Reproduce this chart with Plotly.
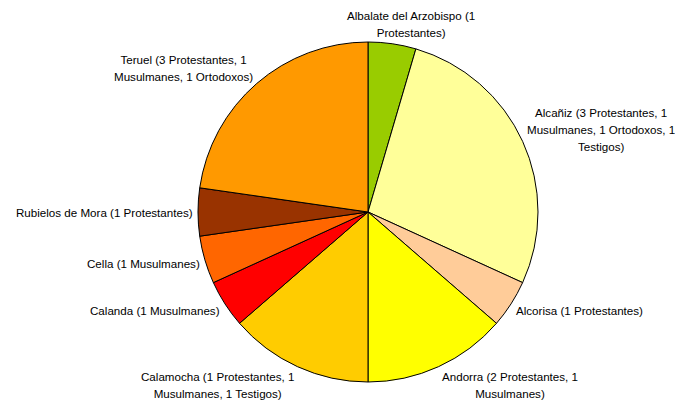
import math
import plotly.graph_objects as go

labels = ["Albalate del Arzobispo", "Alcañiz", "Alcorisa", "Andorra", "Calamocha",
          "Calanda", "Cella", "Rubielos de Mora", "Teruel"]
values = [1, 6, 1, 3, 3, 1, 1, 1, 5]
details = ["(1<br>Protestantes)",
           "(3 Protestantes, 1<br>Musulmanes, 1 Ortodoxos, 1<br>Testigos)",
           "(1 Protestantes)",
           "(2 Protestantes, 1<br>Musulmanes)",
           "(1 Protestantes, 1<br>Musulmanes, 1 Testigos)",
           "(1 Musulmanes)",
           "(1 Musulmanes)",
           "(1 Protestantes)",
           "(3 Protestantes, 1<br>Musulmanes, 1 Ortodoxos)"]
colors = ["#99CC00", "#FFFF99", "#FFCC99", "#FFFF00", "#FFCC00",
          "#FF0000", "#FF6600", "#993300", "#FF9900"]

texts = [f"{l} {d}" for l, d in zip(labels, details)]

W, H = 675, 405
CX, CY, R = 368, 212, 170   # pie centre and radius in pixels
FONT = 11.6
SPACING_FONT = 13           # sets the line spacing (1.3 x this)
LINE_H = 17
GAP = 3

fig = go.Figure(go.Pie(
    labels=labels, values=values,
    textinfo="none",
    sort=False, direction="clockwise", rotation=0,
    marker=dict(colors=colors, line=dict(color="black", width=1)),
    domain=dict(x=[(CX - R) / W, (CX + R) / W], y=[1 - (CY + R) / H, 1 - (CY - R) / H]),
    hoverinfo="label+value",
))

total = sum(values)
cum = 0
for t, v in zip(texts, values):
    mid = (cum + v / 2) / total * 2 * math.pi
    cum += v
    s, c = math.sin(mid), math.cos(mid)
    px = CX + (R + GAP) * s
    py = CY - (R + GAP) * c
    lines = t.split("<br>")
    h = len(lines) * LINE_H
    yc = py - c * h / 2
    xshift = 0
    if s > 0.3:
        xa = "left"
    elif s < -0.3:
        xa = "right"
    else:
        xa = "center"
        xshift = s * 130
    html = "<br>".join(f"<span style='font-size:{FONT}px'>{ln}</span>" for ln in lines)
    fig.add_annotation(x=px / W, y=1 - yc / H, xref="paper", yref="paper",
                       text=html, showarrow=False, xanchor=xa, yanchor="middle",
                       align="center", xshift=xshift,
                       font=dict(family="Liberation Sans, Arial, sans-serif",
                                 size=SPACING_FONT, color="black"))

fig.update_layout(width=W, height=H, margin=dict(l=0, r=0, t=0, b=0),
                  showlegend=False, paper_bgcolor="white")
fig.write_html("out.html", config={"displayModeBar": False},
               post_script="document.body.style.margin='0';document.body.style.overflow='hidden';")
